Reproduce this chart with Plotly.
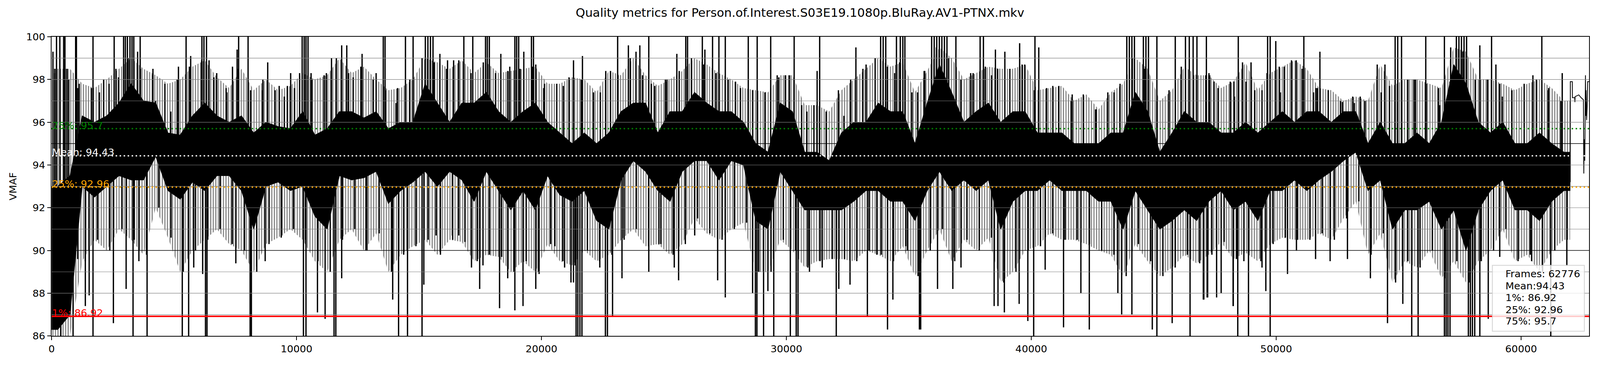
from __future__ import annotations

import plotly.graph_objects as go

TITLE = "Quality metrics for Person.of.Interest.S03E19.1080p.BluRay.AV1-PTNX.mkv"
FRAME_COUNT = 62776
BIN_FRAMES = 500

MEAN_VMAF = 94.43
P1_VMAF = 86.92
P25_VMAF = 92.96
P75_VMAF = 95.7

# dense body of the per-frame curve, one value per 500-frame bin (frames 0 .. 62000)
CORE_LOW = [
    86.3, 87.0, 93.0, 92.5, 93.0, 93.5, 93.3, 93.3, 94.4, 92.8,
    92.4, 93.2, 92.8, 93.5, 93.5, 92.8, 91.0, 93.0, 93.2, 92.8,
    93.0, 91.6, 91.0, 93.5, 93.3, 93.4, 93.7, 92.2, 92.8, 93.2,
    93.7, 93.0, 93.7, 93.3, 92.3, 93.7, 92.8, 91.9, 92.8, 91.9,
    93.5, 92.6, 92.3, 92.8, 91.4, 91.0, 93.3, 94.2, 93.7, 92.8,
    92.3, 93.7, 94.2, 94.2, 93.3, 94.2, 94.0, 91.4, 91.0, 93.7,
    92.8, 91.9, 91.9, 91.9, 91.9, 92.3, 92.8, 92.8, 92.3, 92.3,
    91.4, 92.8, 93.7, 92.8, 93.3, 92.8, 93.3, 91.0, 92.3, 92.8,
    92.8, 93.3, 92.8, 92.8, 92.8, 92.3, 92.3, 91.0, 92.8, 91.9,
    91.0, 91.4, 91.9, 91.4, 92.3, 92.8, 91.9, 92.3, 91.4, 92.8,
    92.8, 93.3, 92.8, 93.3, 93.7, 94.2, 94.6, 92.8, 93.3, 91.0,
    91.9, 91.9, 92.3, 91.0, 91.9, 90.0, 91.9, 92.8, 93.3, 91.9,
    91.9, 91.4, 92.3, 92.8,
]
CORE_HIGH = [
    93.0, 93.5, 96.3, 96.0, 96.3, 96.9, 97.8, 97.0, 96.9, 95.5,
    95.4, 96.3, 96.9, 96.3, 96.0, 96.3, 95.5, 96.0, 95.8, 95.7,
    96.5, 95.4, 95.7, 96.5, 96.5, 96.2, 96.5, 95.7, 96.0, 96.0,
    97.8, 96.9, 96.0, 96.9, 96.9, 97.4, 96.5, 96.0, 96.5, 96.9,
    96.0, 95.5, 95.0, 95.5, 95.0, 95.5, 96.5, 96.9, 96.9, 95.5,
    96.5, 96.5, 97.4, 96.9, 96.5, 96.5, 96.0, 95.0, 94.6, 96.9,
    96.5, 94.6, 94.6, 94.2, 95.5, 96.0, 96.0, 96.9, 96.5, 96.5,
    95.0, 96.9, 98.7, 97.4, 96.0, 96.5, 96.9, 96.0, 96.5, 96.5,
    95.5, 95.5, 95.5, 95.0, 95.0, 95.0, 95.5, 95.5, 97.4, 96.5,
    94.6, 95.5, 96.5, 96.0, 96.0, 95.5, 95.5, 96.0, 95.5, 96.0,
    96.5, 96.0, 96.5, 96.5, 96.0, 96.5, 96.5, 95.0, 96.0, 95.0,
    95.0, 95.5, 95.0, 96.0, 98.7, 97.8, 96.0, 95.5, 96.0, 95.0,
    95.0, 95.5, 95.0, 94.6,
]

# ragged fringe of the body: highest and lowest ordinary swing in each 500-frame bin
FRINGE_HIGH = [
    98.5, 98.5, 97.8, 97.6, 98.0, 98.5, 99.0, 98.5, 98.2, 97.8,
    98.0, 98.6, 98.9, 98.1, 97.6, 98.5, 97.5, 98.0, 97.5, 97.7,
    98.3, 98.0, 98.2, 99.0, 98.3, 98.6, 98.0, 97.5, 97.6, 98.0,
    99.0, 98.8, 98.5, 98.9, 98.3, 98.8, 98.3, 98.4, 98.5, 98.6,
    97.8, 97.8, 98.1, 98.0, 97.4, 98.4, 98.2, 99.0, 98.2, 97.7,
    98.0, 98.4, 99.0, 98.7, 98.3, 98.0, 97.6, 97.5, 97.4, 98.2,
    98.2, 96.8, 96.8, 96.5, 97.5, 98.0, 98.5, 99.0, 98.6, 98.8,
    97.4, 98.4, 99.5, 99.0, 98.0, 98.3, 98.6, 98.5, 98.5, 98.7,
    97.5, 97.6, 97.7, 97.0, 97.3, 96.6, 97.4, 97.8, 99.0, 98.5,
    97.0, 97.5, 98.6, 98.2, 98.2, 97.6, 97.9, 98.8, 97.5, 98.3,
    98.6, 98.9, 98.5, 97.6, 97.5, 97.0, 97.2, 97.0, 98.7, 97.7,
    98.0, 98.0, 97.8, 97.6, 99.5, 99.3, 98.0, 98.0, 97.8, 97.5,
    97.8, 98.0, 97.6, 97.0,
]
FRINGE_LOW = [
    86.0, 86.0, 89.5, 90.5, 90.0, 91.0, 90.5, 89.8, 92.0, 90.6,
    89.0, 90.0, 90.5, 91.0, 90.3, 90.0, 89.0, 90.3, 90.6, 91.0,
    90.5, 89.5, 89.0, 90.5, 91.0, 90.0, 90.8, 89.0, 89.8, 90.2,
    90.5, 89.8, 90.5, 90.4, 89.5, 89.8, 89.7, 89.0, 89.5, 89.0,
    90.3, 89.5, 89.3, 90.0, 89.5, 89.8, 90.5, 91.0, 90.2, 90.3,
    89.8, 90.3, 91.5, 90.8, 90.5, 91.0, 91.3, 89.0, 89.0, 90.5,
    90.0, 89.2, 89.5, 89.6, 89.6, 89.5, 90.0, 89.8, 89.5, 90.2,
    88.8, 90.0, 91.0, 89.5, 90.5, 90.0, 90.6, 88.5, 89.0, 90.0,
    90.2, 90.8, 90.5, 90.5, 90.3, 90.0, 89.8, 88.8, 90.3, 89.5,
    88.8, 89.2, 89.8, 89.4, 89.8, 90.4, 89.6, 89.9, 89.5, 90.3,
    90.6, 90.5, 90.5, 90.8, 90.5, 91.5, 92.3, 89.8, 90.8, 88.5,
    89.5, 89.2, 90.0, 88.7, 89.5, 88.5, 89.5, 90.0, 91.0, 89.5,
    89.8, 89.0, 90.0, 90.5,
]

# single-frame excursions above the body: frame, VMAF (values past 100 run off the axis)
PEAK_FRAMES = [
    53, 126, 199, 335, 491, 543, 699, 980, 1012, 1064, 1689, 1949, 2345, 2553, 2730,
    2938, 3011, 3095, 3199, 3282, 3355, 3511, 3615, 4136, 4240, 4865, 5178, 5490, 5677,
    6136, 6219, 6323, 6427, 6740, 7156, 7385, 7573, 7635, 8021, 8614, 8823, 9291, 9500,
    9760, 9916, 10229, 10312, 10385, 10468, 10593, 11218, 11427, 11843, 12051, 12312,
    12676, 13249, 13541, 13614, 14061, 14447, 14759, 15259, 15363, 15467, 15572, 15853,
    16165, 16414, 16831, 17196, 17716, 17789, 17872, 18341, 18706, 18914, 18987, 19070,
    19279, 19591, 19674, 19768, 20091, 20893, 21309, 21674, 22403, 22820, 23111, 23549,
    23861, 24017, 24382, 24486, 25059, 25528, 25892, 25965, 26569, 26673, 26986, 27246,
    27506, 27923, 28444, 28808, 29360, 29694, 29954, 30318, 30839, 31256, 31360, 32349,
    32839, 33255, 33849, 33953, 34058, 34422, 34495, 34651, 34755, 34839, 35359, 35651,
    35932, 36036, 36140, 36245, 36349, 36453, 36557, 36922, 37526, 37911, 38046, 38380,
    38536, 38921, 39525, 39734, 40150, 40306, 40879, 41671, 42650, 43379, 43900, 44004,
    44108, 44212, 44577, 44681, 44785, 45129, 45879, 46295, 46451, 46608, 46764, 47285,
    48274, 47150, 47255, 47463, 48296, 48452, 48765, 48973, 49421, 49650, 49754, 49983,
    50171, 50327, 50816, 51056, 51129, 51525, 51681, 51785, 52702, 53191, 53431, 54285,
    54441, 54857, 54962, 55118, 55378, 55691, 56107, 56680, 56868, 57097, 57357, 57461,
    57565, 57670, 57774, 58315, 58794, 58971, 59232, 60482, 60846, 61106, 61679,
]
PEAK_VMAF = [
    99.3, 98.3, 100.5, 100.5, 100.5, 100.5, 98.0, 100.5, 100.5, 97.6, 100.5, 97.4, 97.8, 100.5, 98.1,
    100.5, 100.5, 100.5, 100.5, 100.5, 100.5, 99.3, 100.5, 98.5, 97.0, 96.5, 98.6, 100.5, 99.1,
    100.5, 100.5, 100.5, 98.9, 98.3, 97.4, 98.6, 99.4, 100.5, 100.5, 97.5, 98.8, 97.7, 97.2,
    98.3, 97.6, 100.5, 100.5, 100.5, 100.5, 98.3, 98.3, 99.0, 99.6, 99.6, 98.1,
    99.2, 98.3, 100.5, 100.5, 96.9, 100.5, 100.5, 100.5, 100.5, 100.5, 100.5, 99.2,
    98.9, 98.9, 100.5, 100.5, 100.5, 100.5, 100.5, 99.2, 98.6, 100.5, 100.5, 100.5,
    99.3, 100.5, 100.5, 98.7, 97.6, 97.7, 98.9, 99.1, 97.4, 98.4, 100.5, 99.6,
    99.3, 99.6, 100.5, 97.8, 98.0, 99.2, 100.5, 100.5, 100.5, 99.4, 100.5, 100.5,
    100.5, 97.9, 100.5, 100.5, 100.5, 98.1, 98.2, 100.5, 96.5, 98.4, 100.5, 96.3,
    99.5, 98.7, 100.5, 100.5, 100.5, 98.3, 100.5, 100.5, 100.5, 100.5, 97.4, 98.4,
    100.5, 100.5, 100.5, 100.5, 100.5, 100.5, 100.5, 100.5, 98.3, 100.5, 100.5, 98.2,
    99.4, 99.3, 99.7, 98.7, 100.5, 99.5, 97.7, 97.3, 96.6, 97.4, 100.5, 100.5,
    100.5, 100.5, 100.5, 100.5, 100.5, 100.5, 100.5, 100.5, 100.5, 100.5, 100.5, 98.2,
    97.9, 100.5, 98.3, 97.9, 97.2, 100.5, 97.9, 98.8, 97.5, 100.5, 100.5, 99.8,
    97.4, 98.6, 98.9, 98.5, 100.5, 97.4, 97.6, 99.3, 96.95, 96.9, 97.2, 97.4,
    98.7, 100.5, 100.5, 100.5, 98.0, 98.0, 100.5, 96.8, 100.5, 97.9, 100.5, 100.5,
    100.5, 100.5, 100.5, 99.6, 100.5, 98.7, 97.2, 98.2, 100.5, 97.5, 98.3,
]

# single-frame drops below the body: frame, VMAF (values under 86 run off the axis)
DIP_FRAMES = [
    1064, 1376, 1532, 1689, 2522, 3042, 3324, 3563, 3897, 5334, 5594, 5802, 6167, 6282,
    6344, 7521, 8104, 8156, 8719, 9396, 10281, 10385, 10854, 11166, 11531, 11604, 11843,
    12833, 13926, 14166, 14531, 15124, 15197, 15697, 16362, 16623, 17143, 17477, 17612,
    18289, 18622, 18914, 19247, 19768, 19903, 20549, 20945, 21205, 21309, 21414, 21486,
    21570, 21653, 22382, 22611, 22694, 22903, 23288, 24382, 24798, 25423, 25600, 26257,
    27194, 27506, 28621, 28735, 28798, 29069, 29246, 29485, 30162, 30402, 30475, 30943,
    31464, 32037, 32141, 32599, 33308, 33693, 34130, 34349, 34943, 35432, 35484, 36172,
    36797, 37130, 38484, 38640, 38901, 39505, 39859, 40098, 40567, 41317, 42025, 42369,
    43535, 43691, 44108, 44941, 45129, 45753, 46483, 47024, 47180, 47753, 48243, 47046,
    47202, 47567, 48244, 48431, 48681, 48869, 49421, 49577, 49754, 50462, 50827, 51608,
    52202, 52910, 53847, 54545, 55170, 55534, 55795, 56868, 56940, 57013, 57097, 57847,
    57930, 58013, 58107, 58315, 58659, 59128, 60430, 61211, 61867,
]
DIP_VMAF = [
    89.6, 87.4, 87.9, 85.5, 86.6, 88.2, 85.5, 89.5, 85.5, 85.5, 85.5, 89.2, 88.9, 85.5,
    85.5, 89.4, 85.5, 85.5, 89.5, 90.7, 85.5, 85.5, 87.1, 86.8, 85.5, 85.5, 88.7,
    90.0, 87.7, 85.5, 85.5, 85.5, 88.4, 90.7, 90.7, 90.7, 89.2, 88.2, 89.3,
    87.3, 88.7, 87.2, 87.4, 88.2, 88.9, 90.2, 89.2, 88.5, 88.5, 85.5, 85.5,
    85.5, 85.5, 89.2, 85.5, 85.5, 86.9, 88.7, 89.0, 90.3, 89.2, 88.6, 90.7,
    88.6, 87.8, 88.0, 85.5, 85.5, 85.5, 88.1, 85.5, 85.5, 85.5, 85.5, 89.0,
    89.2, 85.5, 88.2, 88.4, 86.9, 89.8, 86.3, 87.7, 90.0, 86.3, 86.3, 88.2,
    88.2, 89.2, 87.4, 87.4, 87.1, 87.5, 86.7, 85.5, 89.1, 86.4, 88.0, 86.3,
    88.0, 87.0, 87.0, 86.3, 85.5, 86.6, 85.5, 87.7, 87.8, 88.0, 87.4, 87.7,
    87.8, 87.8, 87.4, 85.5, 89.5, 85.5, 89.2, 88.1, 85.5, 88.9, 90.0, 89.6,
    89.5, 89.6, 88.7, 86.6, 87.5, 85.5, 85.5, 85.5, 85.5, 85.5, 85.5, 85.5,
    85.5, 85.5, 85.5, 85.5, 86.8, 89.7, 89.5, 85.5, 89.3,
]

# the last stretch of the file is quiet enough to read frame by frame
TAIL_FRAMES = [
    61990, 62006, 62010, 62090, 62095, 62190, 62197, 62205, 62355, 62450, 62545,
    62560, 62575, 62600, 62628, 62640, 62652, 62675, 62700, 62716, 62776,
]
TAIL_VMAF = [
    94.0, 93.2, 97.9, 97.9, 97.15, 97.15, 96.94, 97.2, 97.28, 97.15, 97.05,
    93.6, 95.2, 94.2, 98.2, 96.3, 97.5, 96.1, 96.8, 97.9, 97.9,
]

FONT = "DejaVu Sans"
FIG_W, FIG_H = 4400, 1000
PLOT_L, PLOT_R, PLOT_T, PLOT_B = 142, 4370, 101, 923

# the page is scaled to the browser viewport so the whole 4400x1000 canvas is photographed
FIT_SCRIPT = """
var gd = document.getElementById('{plot_id}');
document.documentElement.style.margin = '0';
document.body.style.margin = '0';
document.body.style.overflow = 'hidden';
var s = Math.min(window.innerWidth / %d, window.innerHeight / %d);
gd.style.transformOrigin = '0 0';
gd.style.transform = 'scale(' + s + ')';
""" % (FIG_W, FIG_H)


def core_mid(frame: int) -> float:
    k = min(frame // BIN_FRAMES, len(CORE_LOW) - 1)
    return (CORE_LOW[k] + CORE_HIGH[k]) / 2


def paper_x(px: float) -> float:
    return (px - PLOT_L) / (PLOT_R - PLOT_L)


def paper_y(py: float) -> float:
    return (PLOT_B - py) / (PLOT_B - PLOT_T)


def band(high: list[float], low: list[float]) -> tuple[list[float], list[float]]:
    centers = [k * BIN_FRAMES + BIN_FRAMES // 2 for k in range(len(high))]
    end = len(high) * BIN_FRAMES
    xs = [0] + centers + [end, end] + centers[::-1] + [0]
    ys = [high[0]] + high + [high[-1], low[-1]] + low[::-1] + [low[0]]
    return xs, ys


def main() -> None:
    fig = go.Figure()

    # hairy zone: many thin swings, drawn as vertical hatching
    fx, fy = band(FRINGE_HIGH, FRINGE_LOW)
    fig.add_trace(go.Scatter(
        x=fx, y=fy, mode="lines", fill="toself", line=dict(width=0),
        fillcolor="rgba(0,0,0,0)",
        fillpattern=dict(shape="|", fgcolor="black", bgcolor="rgba(0,0,0,0)", size=7, solidity=0.42),
        hoverinfo="skip",
    ))

    bx, by = band(CORE_HIGH, CORE_LOW)
    fig.add_trace(go.Scatter(
        x=bx, y=by, mode="lines", fill="toself",
        fillcolor="black", line=dict(color="black", width=1.5), hoverinfo="skip",
    ))

    sx, sy = [], []
    for k, (hi, lo) in enumerate(zip(FRINGE_HIGH, FRINGE_LOW)):
        f_hi = k * BIN_FRAMES + BIN_FRAMES // 4
        f_lo = k * BIN_FRAMES + 3 * BIN_FRAMES // 4
        sx += [f_hi, f_hi, None, f_lo, f_lo, None]
        sy += [core_mid(f_hi), hi, None, core_mid(f_lo), lo, None]
    for f, v in list(zip(PEAK_FRAMES, PEAK_VMAF)) + list(zip(DIP_FRAMES, DIP_VMAF)):
        sx += [f, f, None]
        sy += [core_mid(f), v, None]
    fig.add_trace(go.Scatter(x=sx, y=sy, mode="lines", line=dict(color="black", width=3.6),
                             hoverinfo="skip"))

    fig.add_trace(go.Scatter(x=TAIL_FRAMES, y=TAIL_VMAF, mode="lines",
                             line=dict(color="black", width=2.2), hoverinfo="skip"))

    shapes = []
    for v in range(87, 100):
        dark = v in (90, 95)
        shapes.append(dict(
            type="line", xref="paper", x0=0, x1=1, yref="y", y0=v, y1=v, layer="above",
            line=dict(color="black" if dark else "#808080", width=1.6 if dark else 1.2),
        ))
    dotted = "4px,7px"
    for val, color, dash, width in [
        (P75_VMAF, "green", dotted, 3.8),
        (MEAN_VMAF, "white", dotted, 3.8),
        (P25_VMAF, "orange", dotted, 3.8),
        (P1_VMAF, "red", "solid", 4.2),
    ]:
        shapes.append(dict(
            type="line", xref="paper", x0=0, x1=1, yref="y", y0=val, y1=val, layer="above",
            line=dict(color=color, width=width, dash=dash),
        ))
    # stats box, bottom right
    shapes.append(dict(
        type="rect", xref="paper", yref="paper", layer="above",
        x0=paper_x(4104), x1=paper_x(4357), y0=paper_y(910), y1=paper_y(729),
        fillcolor="rgba(255,255,255,0.8)", line=dict(color="rgba(204,204,204,0.8)", width=2.5),
    ))

    annotations = []
    for text, val, color in [
        (f"75%: {P75_VMAF}", P75_VMAF, "green"),
        (f"Mean: {MEAN_VMAF}", MEAN_VMAF, "white"),
        (f"25%: {P25_VMAF}", P25_VMAF, "orange"),
        (f"1%: {P1_VMAF}", P1_VMAF, "red"),
    ]:
        annotations.append(dict(
            x=0, y=val, xref="x", yref="y", text=text, showarrow=False,
            xanchor="left", yanchor="middle", yshift=9.6, xshift=-1,
            font=dict(family=FONT, size=27.5, color=color),
        ))
    box_lines = [
        f"Frames: {FRAME_COUNT}",
        f"Mean:{MEAN_VMAF}",
        f"1%: {P1_VMAF}",
        f"25%: {P25_VMAF}",
        f"75%: {P75_VMAF}",
    ]
    for i, text in enumerate(box_lines):
        annotations.append(dict(
            x=paper_x(4138), y=paper_y(752 + 32.5 * i), xref="paper", yref="paper",
            text=text, showarrow=False, xanchor="left", yanchor="middle",
            font=dict(family=FONT, size=27.5, color="black"),
        ))

    axis_common = dict(
        showline=True, mirror=True, linecolor="black", linewidth=2,
        ticks="outside", ticklen=10, tickwidth=2, tickcolor="black",
        showgrid=False, zeroline=False,
        tickfont=dict(family=FONT, size=27.5, color="black"),
    )
    fig.update_xaxes(range=[0, FRAME_COUNT], tickvals=list(range(0, 60001, 10000)),
                     tickformat="d", **axis_common)
    fig.update_yaxes(range=[86, 100], dtick=2, tickformat="d",
                     title=dict(text="VMAF", font=dict(family=FONT, size=27.5, color="black"), standoff=18),
                     **axis_common)

    fig.update_layout(
        width=FIG_W, height=FIG_H,
        margin=dict(l=PLOT_L, r=FIG_W - PLOT_R, t=PLOT_T, b=FIG_H - PLOT_B),
        paper_bgcolor="white", plot_bgcolor="white", showlegend=False,
        font=dict(family=FONT, size=27.5, color="black"),
        title=dict(text=TITLE, x=0.5, xanchor="center", y=1 - 34.3 / FIG_H, yanchor="middle",
                   font=dict(family=FONT, size=33, color="black")),
        shapes=shapes, annotations=annotations,
    )

    fig.write_html("out.html", config={"displayModeBar": False}, post_script=FIT_SCRIPT)


if __name__ == "__main__":
    main()
